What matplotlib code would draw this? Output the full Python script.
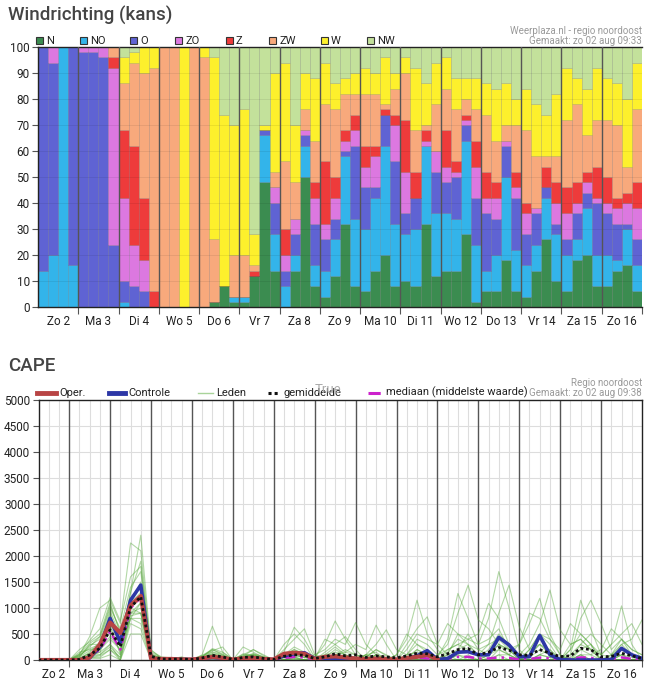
import matplotlib
matplotlib.use("Agg")
import matplotlib.pyplot as plt
from matplotlib.patches import Rectangle
from matplotlib.lines import Line2D
import numpy as np

plt.rcParams['font.family'] = ['Roboto', 'DejaVu Sans']

W, H = 659, 695

# ---------------- data ----------------
day_labels = ["Zo 2", "Ma 3", "Di 4", "Wo 5", "Do 6", "Vr 7", "Za 8", "Zo 9",
              "Ma 10", "Di 11", "Wo 12", "Do 13", "Vr 14", "Za 15", "Zo 16"]

directions = ["N", "NO", "O", "ZO", "Z", "ZW", "W", "NW"]
dir_colors = ["#3b8c50", "#33b4ea", "#5f63d3", "#dc78e0", "#ee3b3b",
              "#f8a97c", "#fdf02c", "#c3e19b"]

# 6-hourly probability (%) per direction, 60 blocks (Zo 2 00h ... Zo 16 18h)
wind_N = [0, 0, 0, 0, 0, 0, 0, 0, 0, 0, 0, 0, 0, 0, 0, 0,
          0, 2, 8, 2, 2, 12, 48, 14, 0, 14, 50, 8, 4, 12, 32, 8,
          6, 14, 20, 8, 10, 8, 32, 12, 14, 14, 28, 2, 6, 6, 18, 6,
          4, 14, 26, 10, 6, 18, 20, 8, 8, 14, 16, 6]
wind_NO = [14, 20, 100, 16, 0, 0, 0, 0, 2, 0, 0, 0, 0, 0, 0, 0,
           0, 0, 0, 2, 2, 0, 18, 14, 8, 6, 12, 8, 10, 14, 26, 26,
           24, 28, 42, 24, 18, 22, 30, 24, 22, 20, 36, 22, 8, 14, 32, 16,
           12, 10, 16, 18, 14, 8, 18, 12, 12, 4, 14, 10]
wind_O = [86, 74, 0, 84, 98, 98, 96, 24, 8, 8, 6, 0, 0, 0, 0, 0,
          0, 0, 0, 0, 0, 0, 2, 12, 6, 8, 4, 16, 12, 8, 2, 28,
          16, 4, 12, 24, 8, 12, 0, 16, 12, 16, 6, 18, 22, 14, 12, 20,
          12, 12, 4, 4, 6, 10, 6, 20, 16, 14, 2, 10]
wind_ZO = [0, 6, 0, 0, 2, 2, 4, 68, 32, 16, 12, 0, 0, 0, 0, 0,
           0, 0, 0, 0, 0, 0, 0, 6, 6, 6, 2, 10, 6, 8, 4, 6,
           8, 12, 0, 14, 16, 0, 2, 8, 6, 2, 2, 12, 6, 8, 2, 4,
           8, 2, 0, 8, 10, 4, 4, 2, 4, 6, 8, 12]
wind_Z = [0, 0, 0, 0, 0, 0, 0, 4, 26, 38, 24, 6, 0, 0, 0, 0,
          0, 0, 0, 0, 0, 2, 0, 0, 10, 0, 0, 6, 24, 8, 4, 6,
          8, 4, 2, 4, 20, 10, 4, 0, 14, 4, 2, 10, 10, 6, 0, 6,
          4, 0, 8, 8, 10, 8, 4, 12, 10, 4, 4, 10]
wind_ZW = [0, 0, 0, 0, 0, 0, 0, 4, 18, 32, 48, 86, 100, 100, 0, 100,
           96, 24, 0, 16, 16, 2, 0, 6, 26, 14, 8, 16, 22, 26, 14, 8,
           20, 20, 2, 10, 18, 16, 2, 18, 16, 20, 6, 12, 22, 16, 6, 18,
           28, 20, 4, 10, 26, 30, 14, 18, 22, 28, 10, 28]
wind_W = [0, 0, 0, 0, 0, 0, 0, 0, 10, 4, 10, 8, 0, 0, 100, 0,
          4, 70, 66, 50, 56, 12, 2, 38, 38, 22, 14, 24, 16, 10, 6, 8,
          10, 8, 18, 6, 6, 24, 16, 16, 12, 12, 8, 12, 12, 20, 16, 10,
          16, 20, 16, 24, 20, 10, 18, 20, 16, 16, 26, 18]
wind_NW = [0, 0, 0, 0, 0, 0, 0, 0, 4, 2, 0, 0, 0, 0, 0, 0,
           0, 4, 26, 30, 24, 72, 30, 10, 6, 30, 10, 12, 6, 14, 12, 10,
           8, 10, 4, 10, 4, 8, 14, 6, 4, 12, 12, 12, 14, 16, 14, 20,
           16, 22, 26, 18, 8, 12, 16, 8, 12, 14, 20, 6]
wind_series = [wind_N, wind_NO, wind_O, wind_ZO, wind_Z, wind_ZW, wind_W, wind_NW]

# CAPE: forecast hours from Zo 2 00h (6-hourly, 06h .. +360h)
cape_hours = list(range(6, 361, 6))

cape_oper = [0, 0, 0,  0, 0, 50, 300,  720, 520, 1050, 1230,  30, 20, 20, 10,
             10, 30, 60, 40,  10, 30, 40, 20,  10, 120, 140, 120,  20, 60, 70, 50,
             30, 20, 30, 20,  10, 40, 60, 100,  10] + [np.nan] * 20
cape_control = [0, 0, 0,  0, 0, 40, 250,  800, 340, 1150, 1440,  30, 10, 20, 10,
                10, 20, 50, 30,  0, 20, 30, 10,  10, 80, 120, 140,  30, 10, 30, 20,
                10, 0, 10, 0,  0, 30, 80, 180,  10, 30, 150, 160,  100, 100, 435, 290,
                65, 65, 470, 100,  10, 0, 0, 0,  0, 10, 225, 100,  30]
cape_mean = [0, 0, 0,  0, 10, 96, 225,  580, 256, 1013, 1218,  70, 20, 15, 20,
             10, 40, 90, 60,  10, 50, 60, 30,  10, 70, 100, 90,  30, 60, 120, 80,
             100, 50, 80, 60,  40, 80, 130, 120,  60, 120, 200, 220,  100, 150, 240, 190,
             100, 90, 200, 130,  65, 80, 225, 200,  60, 70, 130, 80,  30]
cape_median = [0, 0, 0,  0, 0, 60, 200,  550, 200, 1000, 1200,  40, 10, 10, 10,
               0, 30, 60, 40,  0, 30, 40, 10,  0, 40, 60, 50,  10, 20, 40, 20,
               30, 10, 30, 10,  0, 20, 50, 30,  0, 20, 60, 60,  30, 30, 50, 40,
               10, 20, 45, 30,  10, 20, 50, 40,  10, 20, 50, 20,  10]

cape_members = [
    [0, 0, 0, 0, 20, 150, 350, 900, 300, 1100, 1500, 100, 20, 10, 30,
     0, 40, 120, 60, 0, 60, 100, 30, 0, 80, 200, 120, 30, 400, 300, 150,
     100, 50, 200, 80, 0, 100, 300, 150, 0, 150, 400, 300, 50, 200, 500, 300,
     0, 100, 300, 150, 0, 200, 1150, 600, 100, 50, 300, 100, 50],
    [0, 0, 0, 0, 100, 450, 1000, 1150, 700, 2250, 2100, 150, 50, 20, 10,
     0, 100, 650, 150, 20, 100, 80, 40, 0, 50, 150, 100, 0, 50, 200, 100,
     50, 0, 100, 50, 0, 50, 200, 100, 50, 400, 1280, 800, 300, 400, 600, 200,
     0, 50, 200, 100, 0, 100, 300, 200, 0, 0, 200, 100, 0],
    [0, 0, 0, 0, 50, 300, 300, 700, 100, 1300, 2400, 200, 30, 0, 20,
     0, 60, 200, 100, 0, 50, 120, 60, 0, 150, 630, 400, 50, 100, 250, 100,
     0, 100, 50, 0, 0, 0, 100, 50, 0, 0, 100, 50, 0, 100, 300, 200,
     100, 300, 700, 1346, 577, 300, 400, 200, 0, 0, 100, 50, 0],
    [0, 0, 0, 0, 0, 80, 150, 300, 0, 800, 1100, 50, 0, 0, 0,
     0, 20, 100, 50, 0, 30, 50, 0, 0, 0, 80, 50, 0, 0, 100, 50,
     0, 100, 300, 580, 200, 100, 150, 100, 0, 100, 200, 500, 200, 100, 300, 200,
     0, 0, 100, 50, 0, 0, 200, 300, 0, 0, 0, 0, 0],
    [0, 0, 0, 0, 150, 200, 250, 800, 400, 1000, 1200, 80, 10, 20, 40,
     0, 80, 180, 250, 0, 40, 100, 50, 0, 60, 100, 50, 0, 100, 150, 100,
     0, 0, 0, 0, 0, 100, 400, 300, 100, 200, 300, 400, 500, 1090, 800, 300,
     100, 0, 0, 0, 0, 0, 100, 100, 0, 100, 400, 200, 100],
    [0, 0, 0, 0, 30, 100, 100, 250, 50, 900, 900, 20, 0, 10, 0,
     0, 0, 50, 20, 0, 20, 0, 0, 0, 0, 50, 0, 0, 150, 300, 450,
     200, 0, 100, 0, 0, 0, 0, 0, 0, 0, 0, 0, 0, 0, 100, 0,
     0, 100, 300, 200, 0, 50, 200, 100, 200, 600, 400, 100, 0],
    [0, 0, 0, 0, 80, 250, 450, 1000, 600, 1400, 1700, 120, 40, 30, 20,
     0, 50, 150, 80, 0, 250, 150, 50, 0, 100, 250, 150, 0, 0, 50, 0,
     0, 0, 0, 0, 100, 400, 1150, 500, 200, 0, 0, 0, 0, 0, 200, 100,
     0, 200, 500, 300, 0, 0, 0, 0, 0, 0, 0, 0, 0],
    [0, 0, 0, 0, 0, 50, 50, 200, 0, 700, 600, 0, 0, 0, 10,
     0, 0, 20, 0, 0, 0, 0, 0, 0, 0, 0, 0, 0, 0, 0, 0,
     0, 0, 0, 0, 0, 0, 50, 0, 0, 0, 200, 300, 200, 300, 900, 1440,
     640, 200, 300, 100, 0, 0, 300, 500, 300, 100, 200, 100, 0],
    [0, 0, 0, 0, 200, 350, 500, 1100, 500, 1200, 1400, 100, 30, 10, 50,
     0, 70, 160, 100, 0, 100, 200, 100, 0, 50, 100, 50, 100, 200, 400, 300,
     720, 300, 100, 0, 0, 0, 0, 0, 0, 0, 100, 0, 0, 0, 0, 0,
     0, 0, 100, 50, 0, 200, 500, 300, 100, 300, 500, 700, 300],
    [0, 0, 0, 0, 40, 120, 200, 400, 200, 900, 1100, 60, 20, 0, 10,
     0, 30, 80, 40, 0, 50, 60, 20, 0, 40, 120, 80, 0, 50, 100, 200,
     100, 50, 200, 100, 0, 200, 500, 400, 300, 700, 500, 300, 100, 0, 0, 0,
     0, 0, 0, 0, 0, 0, 0, 0, 0, 0, 100, 0, 0],
    [0, 0, 0, 0, 10, 60, 100, 300, 100, 1000, 900, 30, 0, 20, 0,
     0, 0, 40, 0, 0, 0, 40, 0, 0, 0, 30, 0, 0, 0, 100, 150,
     300, 200, 670, 300, 0, 0, 100, 0, 0, 0, 0, 0, 0, 0, 100, 100,
     0, 0, 0, 0, 0, 100, 800, 1150, 700, 200, 400, 200, 100],
    [0, 0, 0, 0, 120, 380, 600, 1200, 750, 1600, 1800, 180, 60, 40, 30,
     0, 90, 200, 120, 0, 80, 120, 60, 0, 300, 500, 300, 0, 0, 0, 0,
     0, 0, 0, 0, 0, 0, 200, 100, 0, 100, 500, 400, 300, 800, 1700, 1000,
     200, 0, 0, 0, 0, 0, 100, 0, 0, 0, 100, 0, 0],
    [0, 0, 0, 0, 60, 180, 250, 750, 250, 800, 800, 40, 10, 0, 20,
     0, 0, 30, 0, 0, 0, 0, 0, 0, 0, 0, 0, 0, 0, 50, 0,
     0, 0, 100, 0, 100, 500, 300, 200, 0, 0, 0, 100, 0, 0, 0, 0,
     0, 0, 100, 200, 0, 0, 0, 0, 0, 0, 0, 0, 0],
    [0, 0, 0, 0, 0, 30, 30, 100, 0, 500, 500, 0, 0, 0, 0,
     0, 0, 0, 0, 0, 0, 0, 0, 0, 0, 0, 0, 0, 0, 0, 0,
     0, 0, 0, 0, 0, 0, 0, 0, 0, 200, 300, 200, 100, 300, 400, 200,
     300, 900, 800, 400, 100, 0, 0, 0, 0, 0, 0, 0, 0],
    [0, 0, 0, 0, 90, 220, 300, 850, 350, 1300, 1900, 90, 20, 50, 30,
     0, 60, 220, 150, 0, 120, 80, 40, 0, 200, 400, 600, 100, 50, 100, 50,
     0, 100, 0, 0, 0, 0, 100, 0, 0, 0, 0, 0, 0, 0, 0, 0,
     0, 0, 0, 0, 0, 0, 0, 0, 0, 100, 300, 400, 770],
    [0, 0, 0, 0, 20, 90, 150, 600, 150, 900, 1000, 50, 0, 0, 10,
     0, 20, 60, 30, 0, 0, 20, 0, 0, 0, 60, 0, 0, 0, 0, 0,
     0, 0, 0, 0, 0, 0, 0, 0, 100, 300, 900, 1440, 770, 600, 300, 100,
     0, 0, 0, 0, 0, 0, 0, 0, 0, 0, 0, 0, 0],
    [0, 0, 0, 0, 70, 280, 400, 950, 450, 1000, 1200, 110, 30, 20, 60,
     0, 40, 100, 60, 0, 60, 100, 40, 0, 100, 200, 100, 50, 300, 750, 400,
     100, 0, 0, 0, 0, 0, 0, 0, 0, 0, 0, 0, 0, 0, 0, 0,
     0, 0, 0, 0, 0, 300, 400, 200, 100, 300, 1040, 300, 0],
    [0, 0, 0, 0, 0, 40, 80, 200, 50, 800, 700, 10, 0, 0, 0,
     0, 0, 0, 0, 0, 0, 0, 0, 0, 0, 20, 0, 0, 0, 0, 0,
     0, 0, 0, 0, 0, 0, 0, 0, 0, 0, 0, 0, 0, 0, 0, 0,
     0, 200, 500, 400, 200, 700, 500, 300, 0, 0, 0, 0, 0],
    [0, 0, 0, 0, 110, 320, 450, 1050, 550, 1100, 1300, 70, 40, 30, 20,
     0, 50, 120, 80, 0, 70, 200, 80, 0, 80, 150, 80, 0, 0, 100, 0,
     0, 100, 150, 0, 0, 300, 600, 830, 300, 100, 0, 0, 0, 0, 0, 0,
     0, 0, 0, 0, 0, 0, 100, 0, 0, 0, 0, 0, 0],
    [0, 0, 0, 0, 30, 130, 200, 450, 200, 850, 900, 40, 10, 10, 0,
     0, 0, 40, 0, 0, 0, 0, 0, 0, 0, 50, 0, 0, 0, 0, 0,
     0, 0, 0, 0, 0, 0, 0, 0, 0, 0, 0, 0, 0, 100, 200, 100,
     300, 700, 1185, 500, 100, 0, 0, 0, 0, 0, 0, 0, 0],
]

# ---------------- figure ----------------
fig = plt.figure(figsize=(W / 100, H / 100), dpi=100)


def fx(px):
    return px / W


def fy(py):
    return 1 - py / H


TXT = "#444444"
GRAYTXT = "#999999"

# ======== Windrichting ========
fig.text(fx(8), fy(15), "Windrichting (kans)", fontsize=13.5, color=TXT,
         weight="medium", va="center", ha="left")
fig.text(fx(642), fy(31), "Weerplaza.nl - regio noordoost", fontsize=7,
         color=GRAYTXT, ha="right", va="center")
fig.text(fx(642), fy(41), "Gemaakt: zo 02 aug 09:33", fontsize=7,
         color=GRAYTXT, ha="right", va="center")

leg_x = [36, 80, 130, 175, 226, 269, 321, 367]
for name, col, lx in zip(directions, dir_colors, leg_x):
    fig.add_artist(Rectangle((fx(lx), fy(44)), 7 / W, 7 / H, transform=fig.transFigure,
                             facecolor=col, edgecolor="#333333", linewidth=0.8))
    fig.text(fx(lx + 10), fy(40.5), name, fontsize=8, color="#222222",
             ha="left", va="center")

ax1 = fig.add_axes([fx(38), fy(307), (642 - 38) / W, (307 - 47) / H])
nblocks = len(wind_N)
xpos = np.arange(nblocks) * 0.25 + 0.125
bottom = np.zeros(nblocks)
for name, col, vals in zip(directions, dir_colors, wind_series):
    v = np.array(vals, dtype=float)
    ax1.bar(xpos, v, width=0.25, bottom=bottom, color=col,
            edgecolor=(0, 0, 0, 0.13), linewidth=0.6, zorder=2)
    bottom += v
ax1.set_xlim(0, 15)
ax1.set_ylim(0, 100)
for yv in range(10, 100, 10):
    ax1.axhline(yv, color=(0, 0, 0, 0.07), linewidth=0.7, zorder=3)
for d in range(1, 15):
    ax1.axvline(d, color="#555555", linewidth=1.0, zorder=4)
ax1.set_yticks(range(0, 101, 10))
ax1.set_xticks(range(1, 16))
ax1.set_xticklabels([])
ax1.set_xticks(np.arange(15) + 0.5, minor=True)
ax1.set_xticklabels(day_labels, minor=True)
ax1.tick_params(axis="x", which="minor", length=0, pad=6, labelsize=8.5, labelcolor="#222222")
ax1.tick_params(axis="x", which="major", length=5, color="#555555")
ax1.tick_params(axis="y", length=4, pad=2, labelsize=8.5, labelcolor="#222222", color="#555555")
for s in ["left", "bottom", "top"]:
    ax1.spines[s].set_color("#222222")
    ax1.spines[s].set_linewidth(1.0)
ax1.spines["right"].set_visible(False)

# ======== CAPE ========
fig.text(fx(8), fy(366), "CAPE", fontsize=13.5, color=TXT, weight="medium",
         va="center", ha="left")
fig.text(fx(642), fy(383), "Regio noordoost", fontsize=7, color=GRAYTXT,
         ha="right", va="center")
fig.text(fx(642), fy(393), "Gemaakt: zo 02 aug 09:38", fontsize=7, color=GRAYTXT,
         ha="right", va="center")

legend_items = [
    ("Oper.", 37, 56, dict(color="#b84444", linewidth=3.5, linestyle="-")),
    ("Controle", 109, 125, dict(color="#2d37a6", linewidth=3.5, linestyle="-")),
    ("Leden", 198, 213, dict(color="#a9d49a", linewidth=1.0, linestyle="-")),
    ("gemiddelde", 268, 280, dict(color="#111111", linewidth=2.2, linestyle=(0, (1, 1)))),
    ("mediaan (middelste waarde)", 368, 383, dict(color="#cc22cc", linewidth=2.2,
                                                  linestyle=(0, (4, 2, 1, 2)))),
]
for name, x0, x1, st in legend_items:
    fig.add_artist(Line2D([fx(x0), fx(x1)], [fy(393), fy(393)],
                          transform=fig.transFigure, **st))
    fig.text(fx(x1 + 3), fy(392.5), name, fontsize=8, color="#222222",
             ha="left", va="center")
fig.text(fx(315), fy(389.5), "True", fontsize=9.5, color="#aaaaaa", ha="left", va="center")

ax2 = fig.add_axes([fx(38.5), fy(660), (642 - 38.5) / W, (660 - 400) / H])
tdays = np.array(cape_hours) / 24.0
ax2.set_xlim(0.25, 15)
ax2.set_ylim(0, 5000)
for yv in range(500, 5000, 500):
    ax2.axhline(yv, color="#dddddd", linewidth=0.8, zorder=0)
for xv in np.arange(0.5, 15, 0.25):
    if abs(xv - round(xv)) > 1e-6:
        ax2.axvline(xv, color="#dddddd", linewidth=0.8, zorder=0)
for d in range(1, 15):
    ax2.axvline(d, color="#555555", linewidth=1.0, zorder=1)

for m in cape_members:
    ax2.plot(tdays, m, color="#55a83a", alpha=0.45, linewidth=0.8, zorder=2)
ax2.plot(tdays, cape_median, color="#cc22cc", linewidth=1.8,
         linestyle=(0, (4, 2, 1, 2)), zorder=3)
ax2.plot(tdays, cape_control, color="#2d37a6", linewidth=2.6, zorder=4)
ax2.plot(tdays, cape_oper, color="#b84444", linewidth=3.0, zorder=5)
ax2.plot(tdays, cape_mean, color="#111111", linewidth=2.0, linestyle=(0, (1, 1)), zorder=6)

ax2.set_yticks(range(0, 5001, 500))
ax2.set_xticks(range(1, 16))
ax2.set_xticklabels([])
label_pos = [0.625] + [d + 0.5 for d in range(1, 15)]
ax2.set_xticks(label_pos, minor=True)
ax2.set_xticklabels(day_labels, minor=True)
ax2.tick_params(axis="x", which="minor", length=0, pad=6, labelsize=8.5, labelcolor="#222222")
ax2.tick_params(axis="x", which="major", length=5, color="#555555")
ax2.tick_params(axis="y", length=4, pad=2, labelsize=8.5, labelcolor="#222222", color="#555555")
for s in ["left", "bottom", "top", "right"]:
    ax2.spines[s].set_color("#222222")
    ax2.spines[s].set_linewidth(1.0)

fig.savefig("out.png", dpi=100)
